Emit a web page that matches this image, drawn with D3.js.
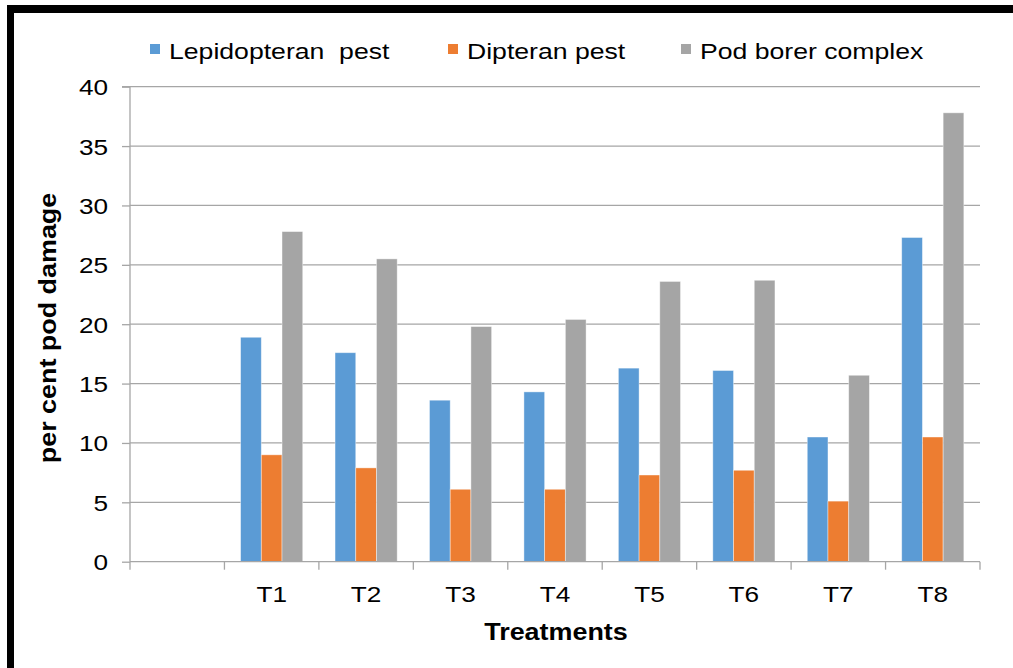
<!DOCTYPE html>
<html><head><meta charset="utf-8">
<script src="https://cdn.jsdelivr.net/npm/d3@7"></script>
<style>body{margin:0;background:#fff}svg{display:block}text{font-family:"Liberation Sans",Arial,sans-serif}</style>
</head><body><svg id="c" width="1013" height="668"></svg>
<script>
const categories = ["", "T1", "T2", "T3", "T4", "T5", "T6", "T7", "T8"];
const seriesNames = ["Lepidopteran  pest", "Dipteran pest", "Pod borer complex"];
const lepidopteran = [null, 18.9, 17.6, 13.6, 14.3, 16.3, 16.1, 10.5, 27.3];
const dipteran = [null, 9.0, 7.9, 6.1, 6.1, 7.3, 7.7, 5.1, 10.5];
const podBorer = [null, 27.8, 25.5, 19.8, 20.4, 23.6, 23.7, 15.7, 37.8];
const yTicks = [0, 5, 10, 15, 20, 25, 30, 35, 40];
const colors = ["#5B9BD5", "#ED7D31", "#A5A5A5"];

const svg = d3.select("#c");
const L = 130, R = 980, T = 86.7, B = 561.7;
const SX = 1.19;
// border
svg.append("rect").attr("x",7).attr("y",5).attr("width",7).attr("height",663).attr("fill","#000");
svg.append("rect").attr("x",7).attr("y",5).attr("width",1006).attr("height",8).attr("fill","#000");

const x = d3.scaleBand().domain(categories.map((c,i)=>i)).range([L,R]).paddingInner(0).paddingOuter(0);
const y = d3.scaleLinear().domain([0,40]).range([B,T]);
const inner = d3.scaleBand().domain([0,1,2]).range([0, x.bandwidth()*0.658]).padding(0);
const off = x.bandwidth()*0.171;

// gridlines
svg.append("g").selectAll("line").data(yTicks.filter(d=>d>0)).join("line")
  .attr("x1",L).attr("x2",R).attr("y1",d=>y(d)).attr("y2",d=>y(d))
  .attr("stroke","#A6A6A6").attr("stroke-width",1.3);

// bars
const series = [lepidopteran, dipteran, podBorer];
series.forEach((vals,s)=>{
  svg.append("g").selectAll("rect").data(vals.map((v,i)=>({v,i})).filter(d=>d.v!=null)).join("rect")
    .attr("x",d=>x(d.i)+off+inner(s))
    .attr("width",inner.bandwidth())
    .attr("y",d=>y(d.v))
    .attr("height",d=>B-y(d.v))
    .attr("fill",colors[s])
    .attr("stroke","#ffffff").attr("stroke-opacity",0.5).attr("stroke-width",0.8);
});

// y axis
const yAxis = d3.axisLeft(y).tickValues(yTicks).tickSize(8).tickPadding(0).tickFormat(()=>"");
const gy = svg.append("g").attr("transform",`translate(${L},0)`).call(yAxis);
gy.select(".domain").attr("stroke","#A6A6A6").attr("stroke-width",1.3).attr("d",`M-8,${T}H0V${B}`);
gy.selectAll(".tick line").attr("stroke","#A6A6A6").attr("stroke-width",1.3);
gy.selectAll(".tick").append("text").attr("fill","#000").attr("font-size",22)
  .attr("text-anchor","end").attr("transform",`translate(-22,8) scale(${SX},1)`)
  .text(d=>d);

// x axis
const xAxis = d3.axisBottom(x).tickFormat(()=>"").tickSize(0);
const gx = svg.append("g").attr("transform",`translate(0,${B})`).call(xAxis);
gx.select(".domain").attr("stroke","#A6A6A6").attr("stroke-width",1.3).attr("d",`M${L},0H${R}`);
gx.selectAll(".tick").append("text").attr("fill","#000").attr("font-size",22)
  .attr("text-anchor","middle").attr("transform",`translate(0,40) scale(${SX},1)`)
  .text(i=>categories[i]);
// category boundary tick marks
svg.append("g").selectAll("line").data(d3.range(categories.length+1)).join("line")
  .attr("x1",i=>L+i*x.step()).attr("x2",i=>L+i*x.step())
  .attr("y1",B).attr("y2",B+8).attr("stroke","#A6A6A6").attr("stroke-width",1.3);

// axis titles
svg.append("text").attr("transform",`translate(556,640) scale(1.17,1)`).attr("text-anchor","middle")
  .attr("font-size",23).attr("font-weight","bold").text("Treatments");
svg.append("text").attr("transform",`translate(56,328) rotate(-90) scale(1.17,1)`).attr("text-anchor","middle")
  .attr("font-size",23).attr("font-weight","bold").text("per cent pod damage");

// legend
const legX = [150, 448, 681];
const lg = svg.append("g");
seriesNames.forEach((n,i)=>{
  lg.append("rect").attr("x",legX[i]).attr("y",44).attr("width",10).attr("height",10).attr("fill",colors[i]);
  lg.append("text").attr("transform",`translate(${legX[i]+19},59) scale(1.21,1)`).attr("font-size",22).attr("fill","#000")
    .attr("xml:space","preserve").style("white-space","pre").text(n);
});
</script></body></html>
